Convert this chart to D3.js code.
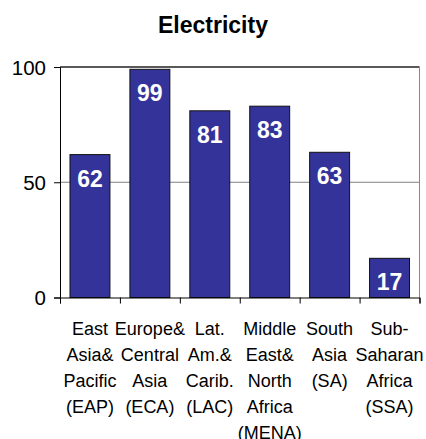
<!DOCTYPE html>
<html><head><meta charset="utf-8">
<script src="https://cdn.jsdelivr.net/npm/d3@7"></script>
<style>html,body{margin:0;padding:0;background:#fff;}svg{display:block;font-family:"Liberation Sans",Arial,sans-serif;}</style>
</head><body>
<svg id="c" width="426" height="439"></svg>
<script>
const title = "Electricity";
const categories = ["EAP","ECA","LAC","MENA","SA","SSA"];
const categoryLabels = [
  ["East","Asia&","Pacific","(EAP)"],
  ["Europe&","Central","Asia","(ECA)"],
  ["Lat.","Am.&","Carib.","(LAC)"],
  ["Middle","East&","North","Africa","(MENA)"],
  ["South","Asia","(SA)"],
  ["Sub-","Saharan","Africa","(SSA)"]
];
const values = [62, 99, 81, 83, 63, 17];
const yTicks = [0, 50, 100];

const svg = d3.select("#c");
const L = 60, R = 419.5, T = 67, B = 297.5;
const x = d3.scaleBand().domain(categories).range([L, R]).paddingInner(1/3).paddingOuter(1/6);
const y = d3.scaleLinear().domain([0, 100]).range([B, T]);

svg.append("text").attr("x", 213).attr("y", 33).attr("text-anchor", "middle")
  .attr("font-size", 23).attr("font-weight", "bold").text(title);

// gridline at 50
svg.append("g").selectAll("line").data(yTicks.filter(d => d > 0 && d < 100)).join("line")
  .attr("x1", L).attr("x2", R).attr("y1", d => y(d)).attr("y2", d => y(d))
  .attr("stroke", "#808080").attr("stroke-width", 1);

// frame top and right
svg.append("line").attr("x1", L).attr("x2", R).attr("y1", T).attr("y2", T).attr("stroke", "#222").attr("stroke-width", 1.3);
svg.append("line").attr("x1", R).attr("x2", R).attr("y1", T).attr("y2", B).attr("stroke", "#888").attr("stroke-width", 1);

// bars
svg.append("g").selectAll("rect").data(values).join("rect")
  .attr("x", (d, i) => x(categories[i]))
  .attr("y", d => y(d))
  .attr("width", x.bandwidth())
  .attr("height", d => B - y(d))
  .attr("fill", "#333399").attr("stroke", "#111").attr("stroke-width", 1);

svg.append("g").selectAll("text").data(values).join("text")
  .attr("x", (d, i) => x(categories[i]) + x.bandwidth() / 2)
  .attr("y", d => y(d) + 32)
  .attr("text-anchor", "middle").attr("fill", "#fff")
  .attr("font-size", 23).attr("font-weight", "bold").text(d => d);

// y axis
const yAxis = d3.axisLeft(y).tickValues(yTicks).tickSize(6).tickPadding(8).tickFormat(d3.format("d"));
const gy = svg.append("g").attr("transform", `translate(${L},0)`).call(yAxis);
gy.select(".domain").attr("stroke", "#000");
gy.selectAll(".tick line").attr("stroke", "#000");
gy.selectAll(".tick text").attr("font-size", 20.5).attr("font-family", "Liberation Sans, Arial, sans-serif").attr("fill", "#000").attr("dy", "0.36em");

// x axis
const xb = d3.scaleLinear().domain([0, categories.length]).range([L, R]);
const gx = svg.append("g").attr("transform", `translate(0,${B})`).call(
  d3.axisBottom(xb).tickValues(d3.range(categories.length + 1)).tickSize(6).tickFormat(""));
gx.select(".domain").attr("stroke", "#000");
gx.selectAll(".tick line").attr("stroke", "#000");

// category labels
const lab = svg.append("g");
categoryLabels.forEach((lines, i) => {
  const cx = x(categories[i]) + x.bandwidth() / 2;
  const t = lab.append("text").attr("text-anchor", "middle").attr("font-size", 18).attr("fill", "#000");
  lines.forEach((s, j) => t.append("tspan").attr("x", cx).attr("y", 335 + j * 26).text(s));
});
</script>
</body></html>
